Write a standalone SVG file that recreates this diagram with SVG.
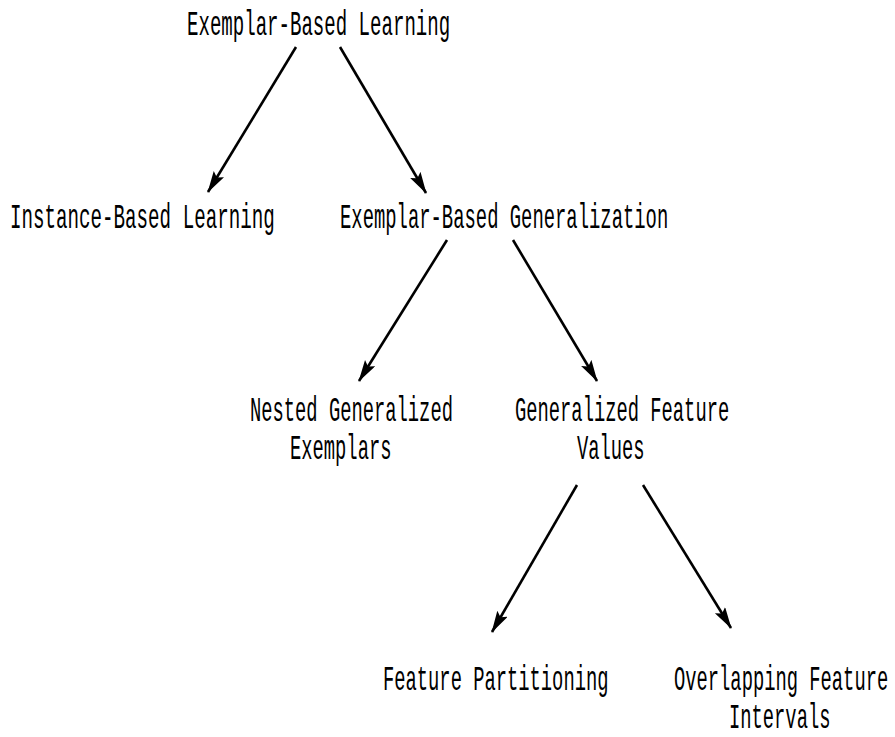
<svg xmlns="http://www.w3.org/2000/svg" width="895" height="737" viewBox="0 0 895 737">
<style>
text { font-family: "Liberation Mono", "DejaVu Sans Mono", monospace; font-size: 35px; fill: #000; }
.c { stroke: #000; stroke-width: 2.6; fill: none; }
</style>
<defs>
<marker id="ah" markerWidth="24" markerHeight="14" refX="21" refY="6" orient="auto" markerUnits="userSpaceOnUse">
<path d="M0,0 L22,6 L0,12 L4,6 Z" fill="#000"/>
</marker>
</defs>
<rect width="895" height="737" fill="#fff"/>
<g id="connectors">
<line class="c" x1="296" y1="47" x2="208" y2="192" marker-end="url(#ah)"/>
<line class="c" x1="340" y1="47" x2="426" y2="193" marker-end="url(#ah)"/>
<line class="c" x1="447" y1="240" x2="359" y2="381" marker-end="url(#ah)"/>
<line class="c" x1="513" y1="240" x2="597" y2="381" marker-end="url(#ah)"/>
<line class="c" x1="577" y1="485" x2="492" y2="632" marker-end="url(#ah)"/>
<line class="c" x1="643" y1="485" x2="731" y2="628" marker-end="url(#ah)"/>
</g>
<g id="n-ebl"><text transform="translate(187,35) scale(0.545,1)">Exemplar-Based Learning</text></g>
<g id="n-ibl"><text transform="translate(10,228) scale(0.548,1)">Instance-Based Learning</text></g>
<g id="n-ebg"><text transform="translate(340,228) scale(0.539,1)">Exemplar-Based Generalization</text></g>
<g id="n-nge">
<text transform="translate(250,421) scale(0.537,1)">Nested Generalized</text>
<text transform="translate(290,459) scale(0.537,1)">Exemplars</text>
</g>
<g id="n-gfv">
<text transform="translate(515,421) scale(0.537,1)">Generalized Feature</text>
<text transform="translate(577,459) scale(0.537,1)">Values</text>
</g>
<g id="n-fp"><text transform="translate(383,690) scale(0.537,1)">Feature Partitioning</text></g>
<g id="n-ofi">
<text transform="translate(674,690) scale(0.537,1)">Overlapping Feature</text>
<text transform="translate(729,728) scale(0.537,1)">Intervals</text>
</g>
</svg>
